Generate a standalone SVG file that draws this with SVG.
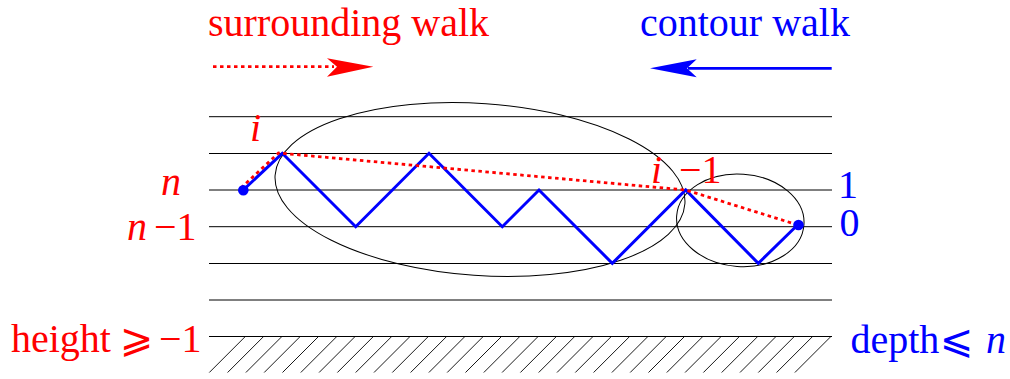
<svg xmlns="http://www.w3.org/2000/svg" width="1010" height="379" viewBox="0 0 1010 379">
<style>
.grid line{stroke:#000;stroke-width:1}
.hatch line{stroke:#000;stroke-width:0.9}
.ell{fill:none;stroke:#000;stroke-width:1}
.blue{fill:none;stroke:#0000ff;stroke-width:3;stroke-linejoin:miter}
.reddot{fill:none;stroke:#ff0000;stroke-width:2.8;stroke-dasharray:3.5 3.5}
.t{font-family:"Liberation Serif","Times New Roman",serif;font-size:40px}
.r{fill:#ff0000}
.b{fill:#0000ff}
.it{font-style:italic}
.m{font-family:"DejaVu Serif","DejaVu Sans",serif}
</style>
<rect width="1010" height="379" fill="#fff"/>
<g id="levels" class="grid">
<line x1="209" y1="116.7" x2="832" y2="116.7"/>
<line x1="209" y1="153.5" x2="832" y2="153.5"/>
<line x1="209" y1="190" x2="832" y2="190"/>
<line x1="209" y1="226.7" x2="832" y2="226.7"/>
<line x1="209" y1="263.5" x2="832" y2="263.5"/>
<line x1="209" y1="300" x2="832" y2="300"/>
<line x1="209" y1="336.5" x2="832" y2="336.5"/>
</g>
<g id="ground" class="hatch">
<line x1="209.3" y1="372.5" x2="245.3" y2="336.5"/>
<line x1="227.6" y1="372.5" x2="263.6" y2="336.5"/>
<line x1="245.9" y1="372.5" x2="281.9" y2="336.5"/>
<line x1="264.2" y1="372.5" x2="300.2" y2="336.5"/>
<line x1="282.5" y1="372.5" x2="318.5" y2="336.5"/>
<line x1="300.8" y1="372.5" x2="336.8" y2="336.5"/>
<line x1="319.1" y1="372.5" x2="355.1" y2="336.5"/>
<line x1="337.4" y1="372.5" x2="373.4" y2="336.5"/>
<line x1="355.7" y1="372.5" x2="391.7" y2="336.5"/>
<line x1="374.0" y1="372.5" x2="410.0" y2="336.5"/>
<line x1="392.3" y1="372.5" x2="428.3" y2="336.5"/>
<line x1="410.6" y1="372.5" x2="446.6" y2="336.5"/>
<line x1="428.9" y1="372.5" x2="464.9" y2="336.5"/>
<line x1="447.2" y1="372.5" x2="483.2" y2="336.5"/>
<line x1="465.5" y1="372.5" x2="501.5" y2="336.5"/>
<line x1="483.8" y1="372.5" x2="519.8" y2="336.5"/>
<line x1="502.1" y1="372.5" x2="538.1" y2="336.5"/>
<line x1="520.4" y1="372.5" x2="556.4" y2="336.5"/>
<line x1="538.7" y1="372.5" x2="574.7" y2="336.5"/>
<line x1="557.0" y1="372.5" x2="593.0" y2="336.5"/>
<line x1="575.3" y1="372.5" x2="611.3" y2="336.5"/>
<line x1="593.6" y1="372.5" x2="629.6" y2="336.5"/>
<line x1="611.9" y1="372.5" x2="647.9" y2="336.5"/>
<line x1="630.2" y1="372.5" x2="666.2" y2="336.5"/>
<line x1="648.5" y1="372.5" x2="684.5" y2="336.5"/>
<line x1="666.8" y1="372.5" x2="702.8" y2="336.5"/>
<line x1="685.1" y1="372.5" x2="721.1" y2="336.5"/>
<line x1="703.4" y1="372.5" x2="739.4" y2="336.5"/>
<line x1="721.7" y1="372.5" x2="757.7" y2="336.5"/>
<line x1="740.0" y1="372.5" x2="776.0" y2="336.5"/>
<line x1="758.3" y1="372.5" x2="794.3" y2="336.5"/>
<line x1="776.6" y1="372.5" x2="812.6" y2="336.5"/>
<line x1="794.9" y1="372.5" x2="830.9" y2="336.5"/>
</g>
<g id="excursions">
<ellipse id="big-excursion" class="ell" cx="480" cy="189.5" rx="205.4" ry="86" transform="rotate(4 480 189.5)"/>
<ellipse id="small-excursion" class="ell" cx="740.3" cy="220.3" rx="63.8" ry="46.2" transform="rotate(4 740.3 220.3)"/>
</g>
<g id="connectors">
<polyline id="contour-path" class="blue" points="243.3,190 282.3,153.3 355.7,226.7 429,153.3 502.3,226.7 539,190 612.3,263.3 685.7,190 758.3,263.3 797,225.5"/>
<polyline id="surrounding-path" class="reddot" points="241,188 278.5,153 685.7,190 798,225"/>
<line id="surrounding-arrow" class="reddot" x1="213" y1="66.7" x2="334" y2="66.7" stroke-dasharray="3.3 3.3"/>
<polygon fill="#ff0000" points="373.3,66.7 327,58.3 337,66.7 327,76.7"/>
<line id="contour-arrow" x1="831.7" y1="68.3" x2="688" y2="68.3" stroke="#0000ff" stroke-width="2.8"/>
<polygon fill="#0000ff" points="650,68.3 696.7,59.3 687,68.3 696.7,77.3"/>
</g>
<g id="start-point"><circle cx="243.3" cy="190.3" r="5.3" fill="#0000ff"/></g>
<g id="end-point"><circle cx="798.5" cy="225" r="5.3" fill="#0000ff"/></g>
<g id="titles" class="t">
<text class="r" x="208" y="36">surrounding walk</text>
<text class="b" x="640" y="35.5">contour walk</text>
</g>
<g id="labels" class="t">
<text class="r it" x="250" y="140.5">i</text>
<text class="r it" x="651" y="183">i</text>
<text class="r" x="679" y="183">−1</text>
<text class="r it" x="161" y="195">n</text>
<text class="r it" x="127" y="239.5">n</text>
<text class="r" x="154" y="239.5">−1</text>
<text class="r" x="11" y="351.7">height</text>
<text class="r m" x="120" y="351.7">⩾</text>
<text class="r" x="159" y="351.7">−1</text>
<text class="b" x="838" y="198.3">1</text>
<text class="b" x="839.5" y="235.5">0</text>
<text class="b" x="850.5" y="353.3">depth</text>
<text class="b m" x="940" y="353.3">⩽</text>
<text class="b it" x="986" y="353.3">n</text>
</g>
</svg>
